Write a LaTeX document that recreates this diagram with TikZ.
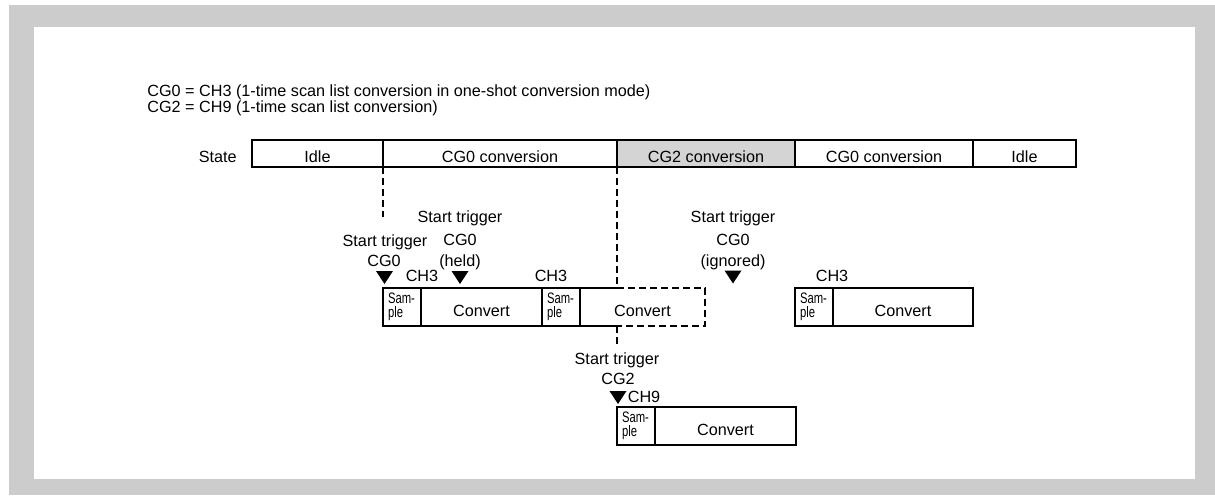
\documentclass[tikz,border=0pt]{standalone}
\usepackage{fontspec}
\setmainfont{Liberation Sans}
\usetikzlibrary{positioning}

\definecolor{fondo}{gray}{0.8}
\definecolor{celdagris}{gray}{0.83}
\newcommand{\angosto}[1]{\scalebox{0.74}[1]{#1}}

\tikzset{
  celda/.style={draw, line width=0.6pt, inner sep=0pt, outer sep=0pt, minimum height=13.5pt,
    text height=8.5pt, text depth=0pt, font=\fontsize{8.1}{9.6}\selectfont},
  muestra/.style={draw, line width=0.6pt, inner xsep=2.5pt, inner ysep=0pt, outer sep=0pt,
    minimum height=19pt, text width=14pt, align=left, font=\fontsize{7.6}{7}\selectfont},
  convierte/.style={draw, line width=0.6pt, inner sep=0pt, outer sep=0pt, minimum height=19pt,
    text height=9pt, text depth=0pt, font=\fontsize{8.1}{9.6}\selectfont},
  etiq/.style={anchor=base, inner sep=0pt, font=\fontsize{8.1}{9.6}\selectfont},
  guion/.style={line width=1pt, dash pattern=on 3.5pt off 2pt},
}

\begin{document}
\begin{tikzpicture}[x=0.5pt, y=-0.5pt]
  % Fondo
  \useasboundingbox (0,0) rectangle (1215,495);
  \fill[fondo] (9,5) rectangle (1215,495);
  \fill[white] (34,27) rectangle (1195,479);

  % Encabezado
  \node[etiq, anchor=base west] (linea1) at (147,96) {CG0 = CH3 (1-time scan list conversion in one-shot conversion mode)};
  \node[etiq, anchor=base west] (linea2) at (147,112) {CG2 = CH9 (1-time scan list conversion)};

  % Estados
  \node[etiq, anchor=base east] (estado) at (237,162) {State};
  \node[celda, minimum width=65.5pt, anchor=north west] (idle1) at (252,140) {Idle};
  \node[celda, minimum width=117pt, right=0pt of idle1] (cg0a) {CG0 conversion};
  \node[celda, minimum width=89pt, fill=celdagris, right=0pt of cg0a] (cg2) {CG2 conversion};
  \node[celda, minimum width=89pt, right=0pt of cg2] (cg0b) {CG0 conversion};
  \node[celda, minimum width=51.5pt, right=0pt of cg0b] (idle2) {Idle};

  % Primera conversion CH3
  \node[muestra, anchor=north west] (smp1) at (383,288) {\angosto{Sam-}\\\angosto{ple}};
  \node[convierte, minimum width=60.5pt, right=0pt of smp1] (conv1) {Convert};
  \node[muestra, right=0pt of conv1] (smp2) {\angosto{Sam-}\\\angosto{ple}};
  \node[convierte, draw=none, minimum width=62.5pt, right=0pt of smp2] (conv2) {Convert};
  \coordinate (corte1) at (cg0a.south east |- conv2.north);
  \coordinate (corte2) at (cg0a.south east |- conv2.south);
  \draw[line width=0.6pt] (conv2.north west) -- (corte1);
  \draw[line width=0.6pt] (conv2.south west) -- (corte2);
  \draw[guion] (corte1) -- (conv2.north east) -- (conv2.south east) -- (corte2);

  % Conversion CH3 final
  \node[muestra, anchor=north west] (smp3) at (795,288) {\angosto{Sam-}\\\angosto{ple}};
  \node[convierte, minimum width=70pt, right=0pt of smp3] (conv3) {Convert};

  % Conversion CH9
  \node[muestra, anchor=north west] (smp4) at (617,407) {\angosto{Sam-}\\\angosto{ple}};
  \node[convierte, minimum width=70.5pt, right=0pt of smp4] (conv4) {Convert};

  % Lineas de trazos
  \coordinate (fin1) at (383,217);
  \coordinate (fin2) at (617,347);
  \draw[guion] (idle1.south east) -- (fin1);
  \draw[guion] (cg0a.south east) -- (corte1);
  \draw[guion] (corte2) -- (fin2);

  % Disparos
  \node[etiq] (st1) at (385,246) {Start trigger};
  \node[etiq] (cg0l1) at (384,266) {CG0};
  \node[etiq] (ch3l1) at (422,281) {CH3};
  \coordinate (tr1) at (384.5,277.5);
  \fill (tr1) ++(-8.5,-6.5) -- ++(17,0) -- ++(-8.5,13) -- cycle;

  \node[etiq] (st2) at (460,222) {Start trigger};
  \node[etiq] (cg0l2) at (460,245) {CG0};
  \node[etiq] (held) at (460,266) {(held)};
  \node[etiq] (ch3l2) at (551,281) {CH3};
  \coordinate (tr2) at (460,277.5);
  \fill (tr2) ++(-8.5,-6.5) -- ++(17,0) -- ++(-8.5,13) -- cycle;

  \node[etiq] (st3) at (733,222) {Start trigger};
  \node[etiq] (cg0l3) at (733,245) {CG0};
  \node[etiq] (ign) at (733,266) {(ignored)};
  \node[etiq] (ch3l3) at (832,281) {CH3};
  \coordinate (tr3) at (733,277);
  \fill (tr3) ++(-8.5,-6.5) -- ++(17,0) -- ++(-8.5,13) -- cycle;

  \node[etiq] (st4) at (617,364) {Start trigger};
  \node[etiq] (cg2l) at (618,384) {CG2};
  \node[etiq] (ch9l) at (644,402) {CH9};
  \coordinate (tr4) at (618,397.5);
  \fill (tr4) ++(-8.5,-6.5) -- ++(17,0) -- ++(-8.5,13) -- cycle;
\end{tikzpicture}
\end{document}
